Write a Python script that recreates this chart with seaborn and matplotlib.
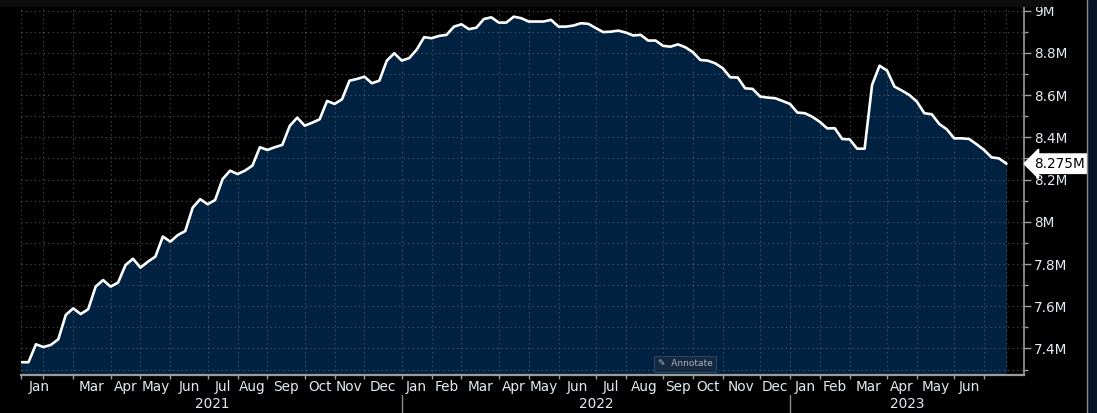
import matplotlib
matplotlib.use("Agg")
import numpy as np
import pandas as pd
import seaborn as sns
import matplotlib.pyplot as plt
import matplotlib.transforms as mtrans
from matplotlib.patches import Rectangle
from matplotlib.lines import Line2D
from matplotlib.ticker import FuncFormatter, MultipleLocator

# ---------------- data (weekly, millions) ----------------
start_date = "2021-01-13"
values = [
    7.335, 7.335, 7.420, 7.407, 7.417, 7.444, 7.559, 7.590, 7.563, 7.586,
    7.693, 7.724, 7.693, 7.712, 7.795, 7.825, 7.783, 7.811, 7.835, 7.930,
    7.906, 7.937, 7.956, 8.067, 8.107, 8.083, 8.103, 8.202, 8.242, 8.226,
    8.242, 8.266, 8.353, 8.340, 8.353, 8.364, 8.454, 8.493, 8.455, 8.469,
    8.485, 8.572, 8.558, 8.580, 8.668, 8.676, 8.687, 8.656, 8.668, 8.763,
    8.798, 8.763, 8.775, 8.815, 8.874, 8.869, 8.880, 8.885, 8.924, 8.935,
    8.912, 8.919, 8.960, 8.968, 8.943, 8.943, 8.971, 8.964, 8.948, 8.948,
    8.948, 8.956, 8.924, 8.924, 8.929, 8.940, 8.937, 8.917, 8.898, 8.900,
    8.905, 8.896, 8.882, 8.885, 8.858, 8.858, 8.833, 8.829, 8.840, 8.826,
    8.803, 8.766, 8.763, 8.750, 8.727, 8.684, 8.683, 8.632, 8.629, 8.593,
    8.588, 8.585, 8.572, 8.558, 8.517, 8.514, 8.497, 8.473, 8.442, 8.443,
    8.392, 8.390, 8.346, 8.346, 8.648, 8.739, 8.716, 8.640, 8.621, 8.600,
    8.569, 8.514, 8.509, 8.463, 8.438, 8.395, 8.395, 8.392, 8.367, 8.340,
    8.305, 8.300, 8.275,
]
last_label = "8.275M"
y_major = [7.4, 7.6, 7.8, 8.0, 8.2, 8.4, 8.6, 8.8, 9.0]

dates = pd.date_range(start_date, periods=len(values), freq="W-WED")
df = pd.DataFrame({"date": dates, "idx": np.arange(len(values)), "value": values})

# ---------------- style ----------------
sns.set_style("dark")
plt.rcParams["font.family"] = ["DejaVu Sans"]
FILL = "#00213f"
TXT = "#e4ebf2"
AXC = "#9c9c9c"

fig = plt.figure(figsize=(10.97, 4.13), dpi=100, facecolor="black")
W, H = 1097, 413
ax = fig.add_axes([21 / W, 1 - 375 / H, 1003 / W, 375 / H])
ax.set_facecolor("black")

ymin, ymax = 7.2745, 9.05
xmin, xmax = 0.24, 134.35

ax.fill_between(df["idx"], df["value"], ymin, color=FILL, lw=0, zorder=1)
sns.lineplot(data=df, x="idx", y="value", ax=ax, color="white", lw=1.9,
             zorder=3, legend=False)

ax.set_xlim(xmin, xmax)
ax.set_ylim(ymin, ymax)
ax.set_xlabel("")
ax.set_ylabel("")

# month starts
month_start = df.groupby([df["date"].dt.year, df["date"].dt.month])["idx"].min()
ms_idx = list(month_start.values)
ms_keys = list(month_start.index)

ax.set_xticks(ms_idx)
ax.set_xticklabels([])
ax.yaxis.tick_right()
ax.set_yticks(y_major)
ax.yaxis.set_minor_locator(MultipleLocator(0.1))
ax.yaxis.set_major_formatter(FuncFormatter(lambda v, p: f"{round(v, 1):g}M"))

ax.set_axisbelow("line")
gstyle = dict(color="#8a96a3", alpha=0.55, lw=0.8, linestyle=(0, (1, 3)))
ax.grid(True, which="major", axis="both", **gstyle)
ax.grid(True, which="minor", axis="y", **gstyle)
ax.axvline(df["idx"].iloc[-1], zorder=1.5, **gstyle)

ax.tick_params(axis="y", which="major", length=5, width=1, color=AXC,
               labelcolor=TXT, labelsize=9.8, pad=2, right=True, left=False)
ax.tick_params(axis="y", which="minor", length=3, width=1, color=AXC,
               right=True, left=False)
ax.tick_params(axis="x", which="major", length=3, width=1, color=AXC,
               direction="out", bottom=True)

for s in ["top", "left"]:
    ax.spines[s].set_visible(False)
ax.spines["right"].set_color(AXC)
ax.spines["right"].set_linewidth(1.2)
ax.spines["bottom"].set_color(AXC)
ax.spines["bottom"].set_linewidth(1.6)

# month labels
mnames = ["Jan", "Feb", "Mar", "Apr", "May", "Jun", "Jul", "Aug", "Sep",
          "Oct", "Nov", "Dec"]
trans = mtrans.blended_transform_factory(ax.transData, ax.transAxes)
for i, (key, si) in enumerate(zip(ms_keys, ms_idx)):
    yr, mo = key
    if i + 1 >= len(ms_idx):
        continue  # partial last month (no label)
    if i == 0:
        ax.text(xmin + 0.8, -0.031, mnames[mo - 1], transform=trans, ha="left",
                va="center", color=TXT, fontsize=9.8, clip_on=False)
        continue
    if (yr, mo) == (2021, 2):
        continue  # skipped in the original
    c = (si + ms_idx[i + 1]) / 2
    ax.text(c, -0.031, mnames[mo - 1], transform=trans, ha="center",
            va="center", color=TXT, fontsize=9.8, clip_on=False)

# year labels & separators
year_start = df.groupby(df["date"].dt.year)["idx"].min()
ys = list(year_start.values)
yk = list(year_start.index)
bounds = [xmin] + ys[1:] + [xmax]
for k, yr in enumerate(yk):
    c = (bounds[k] + bounds[k + 1]) / 2
    ax.text(c, -0.076, str(yr), transform=trans, ha="center", va="center",
            color=TXT, fontsize=9.8, clip_on=False)
for b in ys[1:]:
    ax.add_line(Line2D([b, b], [-0.054, -0.11], transform=trans, color="#8c8c8c",
                       lw=1, clip_on=False))

# last value label
tr2 = mtrans.blended_transform_factory(ax.transAxes, ax.transData)
ax.text(1.0105, values[-1], last_label, transform=tr2, ha="left", va="center",
        color="black", fontsize=9.8, clip_on=False, zorder=10,
        bbox=dict(boxstyle="larrow,pad=0.2", fc="white", ec="white"))

# annotate button
fig.text(685 / W, 1 - 364 / H, "\u270E  Annotate", ha="center", va="center",
         color="#a9b5c1", fontsize=6.5,
         bbox=dict(boxstyle="square,pad=0.4", fc="#142840", ec="#2c4562", lw=0.8))

# frame strips
fig.patches.append(Rectangle((0, 1 - 7 / H), 1053 / W, 7 / H,
                             transform=fig.transFigure, fc="#0d0d0d", ec="none",
                             zorder=20))
fig.patches.append(Rectangle((1088 / W, 0), 9 / W, 1,
                             transform=fig.transFigure, fc="#0a1428", ec="none",
                             zorder=20))
fig.lines.append(Line2D([1087 / W, 1087 / W], [0, 1], transform=fig.transFigure,
                        color="#8a8a8a", lw=1, zorder=21))

fig.savefig("out.png", dpi=100, facecolor="black")
